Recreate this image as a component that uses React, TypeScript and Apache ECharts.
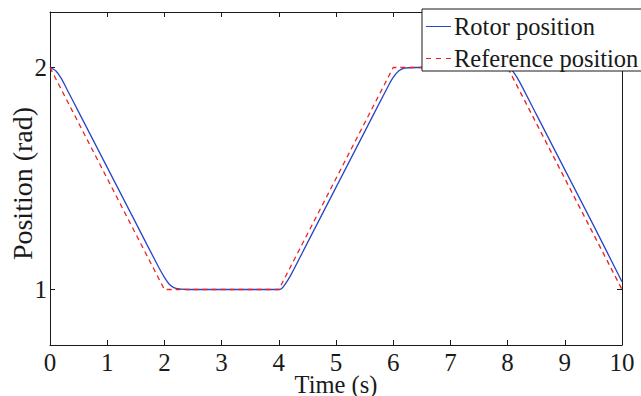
import React, { useEffect, useRef } from "react";
import * as echarts from "echarts";

const xTicks = [0, 1, 2, 3, 4, 5, 6, 7, 8, 9, 10];
const yTicks = [1, 2];

const refTime = [0, 2, 4, 6, 8, 10];
const refPos = [2, 1, 1, 2, 2, 1];

const rotorTime = [0, 0.1, 0.2, 0.3, 0.5, 1.0, 1.5, 1.9, 2.0, 2.1, 2.2, 2.4, 4.0, 4.05, 4.1, 4.2, 4.5, 5.0, 5.5, 5.9, 6.0, 6.1, 6.2, 6.4, 8.0, 8.05, 8.1, 8.2, 8.5, 9.0, 9.5, 10.0];
const rotorPos = [2.0, 1.985, 1.95, 1.9, 1.8, 1.55, 1.3, 1.1, 1.055, 1.02, 1.005, 1.0, 1.0, 1.005, 1.02, 1.06, 1.21, 1.46, 1.71, 1.91, 1.955, 1.985, 1.997, 2.0, 2.0, 1.995, 1.98, 1.94, 1.79, 1.54, 1.29, 1.035];

const FONT = "Liberation Serif";
const AX = "#1a1a1a";
const BLUE = "#2647c8";
const RED = "#f02020";

export default function App() {
  const ref = useRef<HTMLDivElement>(null);
  useEffect(() => {
    if (!ref.current) return;
    const chart = echarts.init(ref.current, undefined, { renderer: "svg" });
    const rotor = rotorTime.map((t, i) => [t, rotorPos[i]]);
    const reference = refTime.map((t, i) => [t, refPos[i]]);
    const axisCommon = {
      axisLine: { show: true, onZero: false, lineStyle: { color: AX, width: 1 } },
      splitLine: { show: false },
    };
    const tickRich = { t: { fontFamily: FONT, fontSize: 25, lineHeight: 17, color: AX } };
    chart.setOption({
      animation: false,
      backgroundColor: "#fff",
      textStyle: { fontFamily: FONT },
      grid: { left: 50, right: 19, top: 12, bottom: 51, outerBoundsMode: "none", containLabel: false },
      legend: {
        data: [
          { name: "Rotor position", icon: "path://M0,0h25v1h-25z" },
          { name: "Reference position", icon: "path://M0,0h5v1h-5z M10,0h5v1h-5z M20,0h5v1h-5z" },
        ],
        orient: "vertical",
        left: 422,
        top: 9,
        padding: [5, 14, 0, 4],
        itemGap: 7,
        itemWidth: 25,
        itemHeight: 1.3,
        backgroundColor: "#fff",
        borderColor: AX,
        borderWidth: 1,
        borderRadius: 0,
        textStyle: { fontFamily: FONT, fontSize: 24.5, color: AX, padding: [0, 0, 0, -2] },
      },
      xAxis: [
        {
          type: "value",
          min: 0,
          max: 10,
          interval: 1,
          ...axisCommon,
          axisTick: { show: true, inside: true, length: 5, lineStyle: { color: AX } },
          axisLabel: {
            show: true,
            margin: 9,
            fontFamily: FONT,
            fontSize: 25,
            lineHeight: 17,
            color: AX,
            formatter: (v: number) => "{t|" + v + "}",
            rich: tickRich,
          },
          name: "Time (s)",
          nameLocation: "middle",
          nameGap: 31,
          nameMoveOverlap: false,
          nameTextStyle: { fontFamily: FONT, fontSize: 24.5, lineHeight: 17, color: AX },
        },
        {
          type: "value",
          position: "top",
          min: 0,
          max: 10,
          interval: 1,
          ...axisCommon,
          axisTick: { show: true, inside: true, length: 5, lineStyle: { color: AX } },
          axisLabel: { show: false },
        },
      ],
      yAxis: [
        {
          type: "value",
          min: 0.75,
          max: 2.25,
          interval: 0.25,
          ...axisCommon,
          axisTick: { show: true, inside: true, length: 5, customValues: yTicks, lineStyle: { color: AX } },
          axisLabel: {
            show: true,
            margin: 3,
            customValues: yTicks,
            fontFamily: FONT,
            fontSize: 25,
            color: AX,
            formatter: (v: number) => "{t|" + v + "}",
            rich: tickRich,
          },
          name: "Position (rad)",
          nameLocation: "middle",
          nameGap: 14,
          nameMoveOverlap: false,
          nameTextStyle: { fontFamily: FONT, fontSize: 28, color: AX, padding: [0, 10, 0, 0] },
        },
        {
          type: "value",
          position: "right",
          min: 0.75,
          max: 2.25,
          interval: 0.25,
          ...axisCommon,
          axisTick: { show: true, inside: true, length: 5, customValues: yTicks, lineStyle: { color: AX } },
          axisLabel: { show: false },
        },
      ],
      series: [
        {
          name: "Rotor position",
          type: "line",
          data: rotor,
          xAxisIndex: 0,
          yAxisIndex: 0,
          symbol: "none",
          smooth: 0.25,
          lineStyle: { color: BLUE, width: 1.3 },
          itemStyle: { color: BLUE },
        },
        {
          name: "Reference position",
          type: "line",
          data: reference,
          xAxisIndex: 0,
          yAxisIndex: 0,
          symbol: "none",
          lineStyle: { color: RED, width: 1.3, type: [5, 4] },
          itemStyle: { color: RED },
        },
      ],
    });
    return () => chart.dispose();
  }, []);
  return <div ref={ref} style={{ width: 641, height: 396, position: "fixed", left: 0, top: 0 }} />;
}
